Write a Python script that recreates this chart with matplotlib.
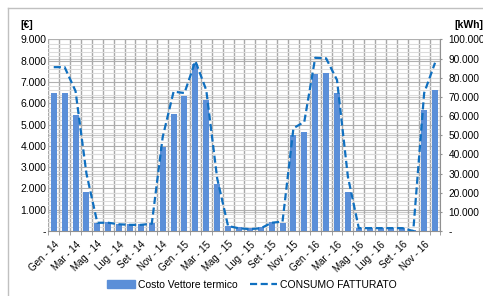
import matplotlib
matplotlib.use("Agg")
import matplotlib.pyplot as plt
from matplotlib.lines import Line2D
from matplotlib.ticker import FuncFormatter, MultipleLocator

mesi = ["Gen", "Feb", "Mar", "Apr", "Mag", "Giu", "Lug", "Ago", "Set", "Ott", "Nov", "Dic"]
anni = ["14", "15", "16"]
labels = [f"{m} - {a}" for a in anni for m in mesi]

# Costo Vettore termico [€]
costo = [6500, 6500, 5450, 1820, 360, 440, 340, 340, 340, 380, 3950, 5480,
         6350, 7850, 6150, 2200, 230, 170, 130, 170, 400, 380, 4500, 4630,
         7390, 7400, 6480, 1820, 130, 130, 130, 130, 130, 50, 5680, 6640]
# CONSUMO FATTURATO [kWh]
consumo = [85500, 85500, 73000, 30000, 4300, 4300, 3500, 3200, 3200, 3800, 49000, 72700,
           72000, 88700, 73500, 27500, 2600, 1400, 1000, 1400, 4300, 4900, 53600, 57000,
           90400, 90100, 78800, 28300, 1500, 1500, 1500, 1500, 1500, 0, 72000, 87800]

bar_color = "#5B8FD8"
line_color = "#1070C0"

plt.rcParams["font.family"] = ["Liberation Sans", "DejaVu Sans"]

fig = plt.figure(figsize=(4.83, 2.96), dpi=100)
ax = fig.add_axes([0.1, 0.2196, 0.812, 0.6474])
ax2 = ax.twinx()

x = list(range(len(labels)))
ax.bar(x, costo, width=0.55, color=bar_color, zorder=3)
ax2.plot(x, consumo, color=line_color, lw=1.6, dashes=(3.2, 1.6), zorder=4)

ax.set_xlim(-0.5, len(labels) - 0.5)
ax.set_ylim(0, 9000)
ax2.set_ylim(0, 100000)

def thousands(v, pos):
    if v == 0:
        return "-"
    return f"{int(v):,}".replace(",", ".")

ax.yaxis.set_major_locator(MultipleLocator(1000))
ax.yaxis.set_minor_locator(MultipleLocator(200))
ax.yaxis.set_major_formatter(FuncFormatter(thousands))
ax2.yaxis.set_major_locator(MultipleLocator(10000))
ax2.yaxis.set_major_formatter(FuncFormatter(thousands))

# grid
ax.grid(axis="y", which="major", color="#B0B0B0", lw=0.8, zorder=0)
ax.grid(axis="y", which="minor", color="#DCDCDC", lw=0.8, zorder=0)
for i in range(len(labels) + 1):
    ax.axvline(i - 0.5, color="#A8A8A8", lw=1.0, zorder=1)
for v in range(10000, 100001, 10000):
    ax.axhline(v * 9000 / 100000, color="#C8C8C8", lw=0.8, zorder=0)

ax.set_xticks([i - 0.5 for i in range(len(labels) + 1)], minor=True)
ax.set_xticks(x[::2])
ax.set_xticklabels(labels[::2], rotation=45, ha="right", rotation_mode="anchor", fontsize=7)
ax.tick_params(axis="x", which="major", length=0, pad=6)
ax.tick_params(axis="x", which="minor", length=3, color="#909090")
ax.tick_params(axis="y", which="both", length=0, labelsize=7.5, pad=1.5)
ax2.tick_params(axis="y", length=1.5, color="#909090", labelsize=7.3, pad=4.3)

for a in (ax, ax2):
    for s in a.spines.values():
        s.set_visible(False)
ax.spines["bottom"].set_visible(True)
ax.spines["bottom"].set_color("#909090")
ax2.spines["right"].set_visible(True)
ax2.spines["right"].set_color("#909090")

fig.text(20 / 483, 1 - 25 / 296, "[€]", fontsize=7.5, fontweight="bold", ha="left", va="center")
fig.text(454 / 483, 1 - 25 / 296, "[kWh]", fontsize=7.5, fontweight="bold", ha="left", va="center")

# chart area border
fig.add_artist(Line2D([8 / 483, 8 / 483], [0, 1 - 8 / 296], transform=fig.transFigure, color="#C0C0C0", lw=1))
fig.add_artist(Line2D([8 / 483, 1], [1 - 8 / 296, 1 - 8 / 296], transform=fig.transFigure, color="#C0C0C0", lw=1))

handles = [plt.Rectangle((0, 0), 1, 1, color=bar_color),
           Line2D([], [], color=line_color, lw=1.6, dashes=(3.2, 1.6))]
fig.legend(handles, ["Costo Vettore termico", "CONSUMO FATTURATO"], loc="center",
           bbox_to_anchor=(0.522, 1 - 285 / 296), ncol=2, frameon=False, fontsize=7.5,
           handlelength=2.6, handleheight=0.8, columnspacing=1.2, handletextpad=0.3)

fig.savefig("out.png", dpi=100)
